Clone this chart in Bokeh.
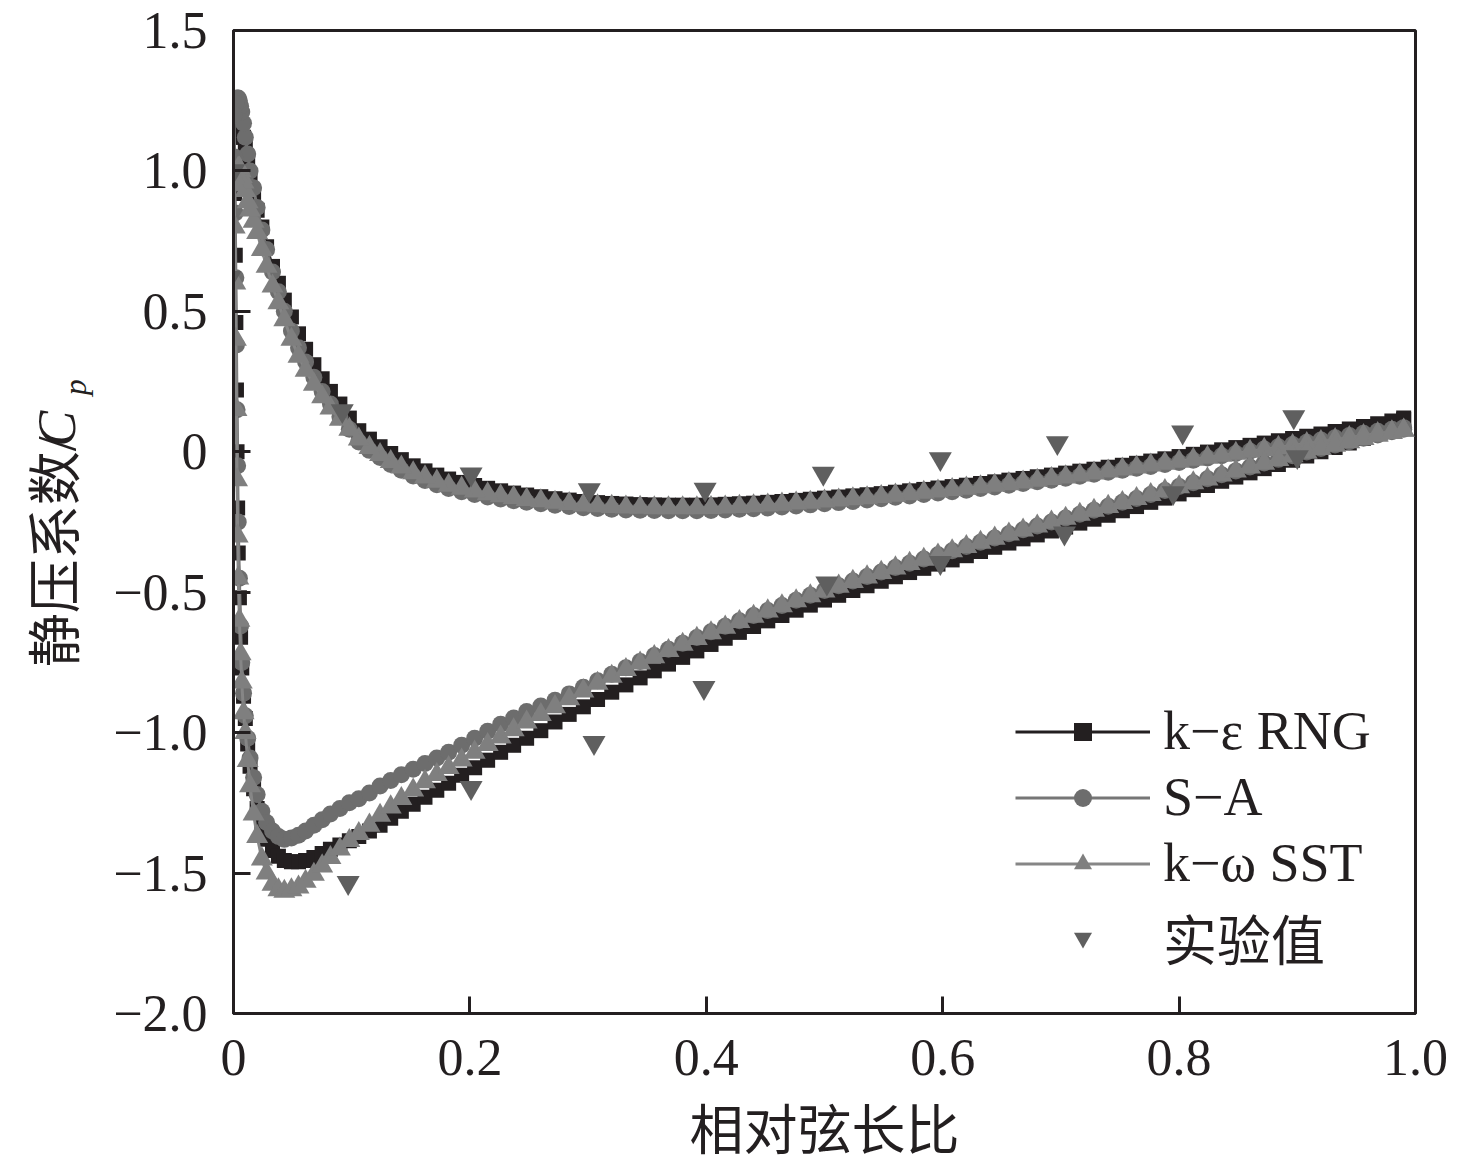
import math
from bokeh.plotting import figure
from bokeh.layouts import row
from bokeh.models import Range1d, FixedTicker, Legend, LegendItem
from bokeh.core.properties import value
from bokeh.embed import file_html
from bokeh.resources import INLINE

# ---------------- data ----------------
x_ticks = [0, 0.2, 0.4, 0.6, 0.8, 1.0]
x_tick_labels = ["0", "0.2", "0.4", "0.6", "0.8", "1.0"]
y_ticks = [-2.0, -1.5, -1.0, -0.5, 0, 0.5, 1.0, 1.5]
y_tick_labels = ["\u22122.0", "\u22121.5", "\u22121.0", "\u22120.5", "0", "0.5", "1.0", "1.5"]

series_names = ["k\u2212\u03b5 RNG", "S\u2212A", "k\u2212\u03c9 SST", "实验值"]
x_title = "相对弦长比"
y_title_parts = ["静压系数/", "C", "p"]

# chord stations near the leading edge (upper / lower branch) and along the chord
x_nose_upper = [0.002, 0.003, 0.004, 0.005, 0.006, 0.007, 0.0085, 0.010, 0.012, 0.014,
                0.017, 0.020, 0.024, 0.028, 0.033, 0.038, 0.043, 0.049, 0.055, 0.061,
                0.068, 0.075, 0.082, 0.090, 0.098]
x_nose_lower = [0.0005, 0.001, 0.0015, 0.002, 0.0025, 0.003, 0.0035, 0.004, 0.005, 0.006,
                0.007, 0.0085, 0.010, 0.012, 0.014, 0.017, 0.020, 0.024, 0.028, 0.033,
                0.038, 0.043, 0.049, 0.055, 0.061, 0.068, 0.075, 0.082, 0.090, 0.098]
x_chord = [0.106, 0.115, 0.124, 0.133, 0.142, 0.152, 0.162, 0.172, 0.182, 0.193, 0.204, 0.215, 0.226, 0.237, 0.248, 0.260,
           0.272, 0.284, 0.296, 0.308, 0.320, 0.332, 0.344, 0.356, 0.368, 0.380, 0.392, 0.404, 0.416, 0.428, 0.440, 0.452, 0.464, 0.476, 0.488, 0.500,
           0.512, 0.524, 0.536, 0.548, 0.560, 0.572, 0.584, 0.596, 0.608, 0.620, 0.632, 0.644, 0.656, 0.668, 0.680, 0.692, 0.704, 0.716, 0.728, 0.740,
           0.752, 0.764, 0.776, 0.788, 0.800, 0.812, 0.824, 0.836, 0.848, 0.860, 0.872, 0.884, 0.896, 0.908, 0.920, 0.932, 0.944, 0.956, 0.968, 0.980, 0.990]

# k-eps RNG
rng_nose_upper = [1.15, 1.17, 1.18, 1.18, 1.17, 1.15, 1.12, 1.08, 1.03, 0.98,
                  0.92, 0.86, 0.80, 0.73, 0.66, 0.60, 0.54, 0.48, 0.42, 0.365,
                  0.31, 0.26, 0.215, 0.17, 0.12]
rng_chord_upper = [0.075, 0.045, 0.018, -0.006, -0.028, -0.05, -0.068, -0.083, -0.097, -0.109, -0.12, -0.13, -0.139, -0.147, -0.154, -0.16,
                   -0.167, -0.172, -0.177, -0.181, -0.184, -0.186, -0.188, -0.189, -0.19, -0.19, -0.19, -0.189, -0.187, -0.185, -0.183, -0.18, -0.177, -0.173, -0.169, -0.165,
                   -0.161, -0.157, -0.153, -0.149, -0.144, -0.139, -0.134, -0.129, -0.124, -0.119, -0.113, -0.107, -0.101, -0.095, -0.089, -0.083, -0.076, -0.069, -0.062, -0.055,
                   -0.048, -0.041, -0.033, -0.025, -0.017, -0.009, -0.001, 0.007, 0.015, 0.023, 0.031, 0.039, 0.047, 0.055, 0.063, 0.072, 0.081, 0.09, 0.1, 0.11, 0.12]
rng_nose_lower = [1.12, 0.92, 0.70, 0.46, 0.22, 0.0, -0.2, -0.36, -0.52, -0.66,
                  -0.77, -0.87, -0.95, -1.04, -1.12, -1.2, -1.27, -1.33, -1.38, -1.42,
                  -1.44, -1.455, -1.46, -1.46, -1.455, -1.445, -1.43, -1.415, -1.4, -1.385]
rng_chord_lower = [-1.37, -1.35, -1.33, -1.305, -1.28, -1.255, -1.23, -1.205, -1.18, -1.152, -1.125, -1.098, -1.07, -1.045, -1.02, -0.993,
                   -0.962, -0.935, -0.908, -0.882, -0.856, -0.83, -0.805, -0.78, -0.756, -0.732, -0.709, -0.686, -0.664, -0.643, -0.622, -0.602, -0.583, -0.564, -0.546, -0.528,
                   -0.511, -0.494, -0.477, -0.461, -0.445, -0.43, -0.415, -0.4, -0.385, -0.37, -0.355, -0.34, -0.325, -0.31, -0.296, -0.282, -0.268, -0.254, -0.24, -0.226,
                   -0.21, -0.195, -0.18, -0.165, -0.15, -0.135, -0.12, -0.105, -0.09, -0.075, -0.06, -0.045, -0.03, -0.015, 0.0, 0.015, 0.031, 0.048, 0.066, 0.088, 0.115]

# S-A
sa_nose_upper = [1.24, 1.26, 1.26, 1.25, 1.23, 1.21, 1.17, 1.12, 1.06, 1.0,
                 0.94, 0.87, 0.79, 0.72, 0.64, 0.57, 0.50, 0.43, 0.37, 0.32,
                 0.265, 0.215, 0.17, 0.125, 0.08]
sa_chord_upper = [0.035, 0.005, -0.02, -0.045, -0.066, -0.086, -0.102, -0.117, -0.131, -0.142, -0.152, -0.161, -0.168, -0.174, -0.18, -0.185,
                  -0.19, -0.195, -0.199, -0.202, -0.205, -0.207, -0.208, -0.209, -0.21, -0.21, -0.21, -0.209, -0.207, -0.205, -0.203, -0.2, -0.197, -0.193, -0.189, -0.185,
                  -0.181, -0.177, -0.172, -0.167, -0.162, -0.157, -0.152, -0.147, -0.142, -0.137, -0.131, -0.125, -0.119, -0.113, -0.107, -0.101, -0.094, -0.087, -0.08, -0.073,
                  -0.066, -0.059, -0.052, -0.045, -0.038, -0.03, -0.022, -0.014, -0.006, 0.002, 0.01, 0.018, 0.026, 0.034, 0.042, 0.05, 0.058, 0.066, 0.073, 0.08, 0.086]
sa_nose_lower = [1.20, 1.05, 0.85, 0.62, 0.38, 0.15, -0.05, -0.25, -0.45, -0.62,
                 -0.75, -0.86, -0.94, -1.02, -1.09, -1.16, -1.22, -1.28, -1.32, -1.35,
                 -1.37, -1.38, -1.375, -1.365, -1.35, -1.33, -1.31, -1.29, -1.27, -1.25]
sa_chord_lower = [-1.235, -1.215, -1.19, -1.17, -1.15, -1.13, -1.11, -1.09, -1.07, -1.045, -1.02, -0.995, -0.97, -0.948, -0.925, -0.905,
                  -0.885, -0.862, -0.838, -0.815, -0.792, -0.769, -0.747, -0.725, -0.703, -0.682, -0.661, -0.641, -0.621, -0.602, -0.583, -0.565, -0.547, -0.529, -0.511, -0.494,
                  -0.477, -0.46, -0.444, -0.428, -0.412, -0.397, -0.382, -0.367, -0.352, -0.337, -0.322, -0.307, -0.292, -0.278, -0.264, -0.25, -0.236, -0.222, -0.208, -0.194,
                  -0.18, -0.166, -0.152, -0.138, -0.124, -0.11, -0.096, -0.082, -0.068, -0.054, -0.04, -0.027, -0.014, -0.001, 0.012, 0.024, 0.036, 0.048, 0.06, 0.071, 0.08]

# k-omega SST
sst_nose_upper = [0.95, 0.99, 1.01, 1.01, 1.0, 0.98, 0.96, 0.93, 0.89, 0.86,
                  0.82, 0.78, 0.72, 0.66, 0.59, 0.53, 0.47, 0.40, 0.34, 0.29,
                  0.24, 0.195, 0.155, 0.115, 0.08]
sst_chord_upper = [0.045, 0.015, -0.01, -0.035, -0.055, -0.075, -0.09, -0.105, -0.12, -0.13, -0.14, -0.15, -0.157, -0.163, -0.17, -0.175,
                   -0.18, -0.185, -0.19, -0.193, -0.195, -0.197, -0.198, -0.2, -0.2, -0.2, -0.2, -0.199, -0.197, -0.195, -0.193, -0.19, -0.187, -0.183, -0.18, -0.176,
                   -0.172, -0.168, -0.164, -0.16, -0.155, -0.15, -0.145, -0.14, -0.135, -0.13, -0.125, -0.12, -0.114, -0.108, -0.102, -0.096, -0.09, -0.083, -0.076, -0.069,
                   -0.062, -0.055, -0.048, -0.041, -0.034, -0.027, -0.02, -0.013, -0.006, 0.001, 0.008, 0.015, 0.022, 0.029, 0.036, 0.043, 0.05, 0.057, 0.064, 0.071, 0.077]
sst_nose_lower = [0.98, 0.80, 0.60, 0.40, 0.15, -0.10, -0.30, -0.45, -0.60, -0.72,
                  -0.82, -0.93, -1.00, -1.10, -1.19, -1.29, -1.37, -1.45, -1.50, -1.54,
                  -1.56, -1.565, -1.56, -1.55, -1.53, -1.505, -1.475, -1.445, -1.415, -1.385]
sst_chord_lower = [-1.36, -1.33, -1.295, -1.265, -1.235, -1.205, -1.175, -1.15, -1.125, -1.098, -1.07, -1.043, -1.016, -0.99, -0.963, -0.936,
                   -0.908, -0.88, -0.852, -0.825, -0.8, -0.776, -0.753, -0.73, -0.708, -0.686, -0.665, -0.645, -0.625, -0.605, -0.586, -0.567, -0.549, -0.531, -0.513, -0.496,
                   -0.479, -0.462, -0.446, -0.43, -0.414, -0.398, -0.383, -0.368, -0.353, -0.338, -0.323, -0.308, -0.293, -0.279, -0.265, -0.251, -0.237, -0.223, -0.209, -0.195,
                   -0.181, -0.167, -0.153, -0.139, -0.125, -0.111, -0.097, -0.083, -0.069, -0.055, -0.041, -0.028, -0.015, -0.002, 0.011, 0.023, 0.035, 0.047, 0.058, 0.068, 0.076]

# experiment
exp_x = [-0.003, 0.0, 0.092, 0.201, 0.301, 0.399, 0.499, 0.598, 0.697, 0.803, 0.897,
         0.097, 0.201, 0.305, 0.398, 0.502, 0.598, 0.703, 0.795, 0.900]
exp_y = [0.62, 1.0, 0.146, -0.08, -0.136, -0.134, -0.077, -0.025, 0.032, 0.07, 0.124,
         -1.534, -1.196, -1.036, -0.84, -0.468, -0.395, -0.29, -0.146, -0.018]

# ---------------- build ----------------
x_upper = x_nose_upper + x_chord
x_lower = x_nose_lower + x_chord
loop_x = x_upper[::-1] + x_lower


def loop(nose_u, chord_u, nose_l, chord_l):
    return (nose_u + chord_u)[::-1] + nose_l + chord_l


rng_y = loop(rng_nose_upper, rng_chord_upper, rng_nose_lower, rng_chord_lower)
sa_y = loop(sa_nose_upper, sa_chord_upper, sa_nose_lower, sa_chord_lower)
sst_y = loop(sst_nose_upper, sst_chord_upper, sst_nose_lower, sst_chord_lower)

SERIF = "Liberation Serif"
MIXED = "Liberation Serif, Noto Sans CJK SC"
INK = "#231f20"

TITLE_W = 105
FIG_H = 30 + 983 + 150

p = figure(frame_width=1182, frame_height=983,
           x_range=Range1d(0, 1), y_range=Range1d(-2, 1.5),
           output_backend="svg", toolbar_location=None,
           min_border_left=233 - TITLE_W, min_border_right=53,
           min_border_top=30, min_border_bottom=150)
p.background_fill_color = "white"
p.border_fill_color = "white"
p.xgrid.visible = False
p.ygrid.visible = False
p.outline_line_color = INK
p.outline_line_width = 3

for ax, ticks, labels in ((p.xaxis[0], x_ticks, x_tick_labels), (p.yaxis[0], y_ticks, y_tick_labels)):
    ax.ticker = FixedTicker(ticks=ticks)
    ax.major_label_overrides = {t: l for t, l in zip(ticks, labels)}
    ax.axis_line_color = INK
    ax.axis_line_width = 3
    ax.major_tick_line_color = INK
    ax.major_tick_line_width = 3
    ax.major_tick_in = 17
    ax.major_tick_out = 0
    ax.minor_tick_line_color = None
    ax.major_label_text_font = SERIF
    ax.major_label_text_font_size = "52px"
    ax.major_label_text_color = INK
p.xaxis[0].major_label_standoff = 26
p.yaxis[0].major_label_standoff = 26
p.xaxis[0].axis_label = x_title
p.xaxis[0].axis_label_text_font = MIXED
p.xaxis[0].axis_label_text_font_size = "54px"
p.xaxis[0].axis_label_text_font_style = "normal"
p.xaxis[0].axis_label_text_color = INK
p.xaxis[0].axis_label_standoff = 24

l1 = p.line(loop_x, rng_y, line_color=INK, line_width=3)
s1 = p.scatter(loop_x, rng_y, marker="square", size=15, fill_color=INK, line_color=None)
l2 = p.line(loop_x, sa_y, line_color="#767676", line_width=3)
s2 = p.scatter(loop_x, sa_y, marker="circle", size=17, fill_color="#6d6d6d", line_color=None)
l3 = p.line(loop_x, sst_y, line_color="#868686", line_width=3)
s3 = p.scatter(loop_x, sst_y, marker="triangle", size=22, fill_color="#7f7f7f", line_color=None)
s4 = p.scatter(exp_x, exp_y, marker="inverted_triangle", size=23, fill_color="#5f5f5f", line_color=None)

legend = Legend(items=[LegendItem(label=series_names[0], renderers=[l1, s1]),
                       LegendItem(label=series_names[1], renderers=[l2, s2]),
                       LegendItem(label=series_names[2], renderers=[l3, s3]),
                       LegendItem(label=series_names[3], renderers=[s4])],
                location=(782, 36))
legend.glyph_width = 135
legend.glyph_height = 45
legend.label_height = 60
legend.label_standoff = 13
legend.spacing = 4
legend.padding = 0
legend.margin = 0
legend.border_line_color = None
legend.background_fill_alpha = 0
legend.label_text_font = MIXED
legend.label_text_font_size = "54px"
legend.label_text_color = INK
p.add_layout(legend)

# narrow strip on the left that carries the rotated y-axis title (C italic, p subscript)
t = figure(width=TITLE_W, height=FIG_H, x_range=Range1d(0, TITLE_W), y_range=Range1d(0, FIG_H),
           output_backend="svg", toolbar_location=None,
           x_axis_location=None, y_axis_location=None, min_border=0)
t.xgrid.visible = False
t.ygrid.visible = False
t.outline_line_color = None
t.background_fill_color = "white"
t.border_fill_color = "white"
t.text(x=[56], y=[FIG_H - 754], text=[y_title_parts[0]], angle=math.pi / 2,
       text_font=value(MIXED), text_font_size=value("54px"), text_color=INK,
       text_align="left", text_baseline="alphabetic")
t.text(x=[56], y=[FIG_H - 493], text=[y_title_parts[1]], angle=math.pi / 2,
       text_font=value(SERIF), text_font_style="italic", text_font_size=value("54px"), text_color=INK,
       text_align="left", text_baseline="alphabetic")
t.text(x=[74], y=[FIG_H - 432], text=[y_title_parts[2]], angle=math.pi / 2,
       text_font=value(SERIF), text_font_style="italic", text_font_size=value("32px"), text_color=INK,
       text_align="left", text_baseline="alphabetic")

layout = row(t, p)
open("out.html", "w").write(file_html(layout, INLINE))
